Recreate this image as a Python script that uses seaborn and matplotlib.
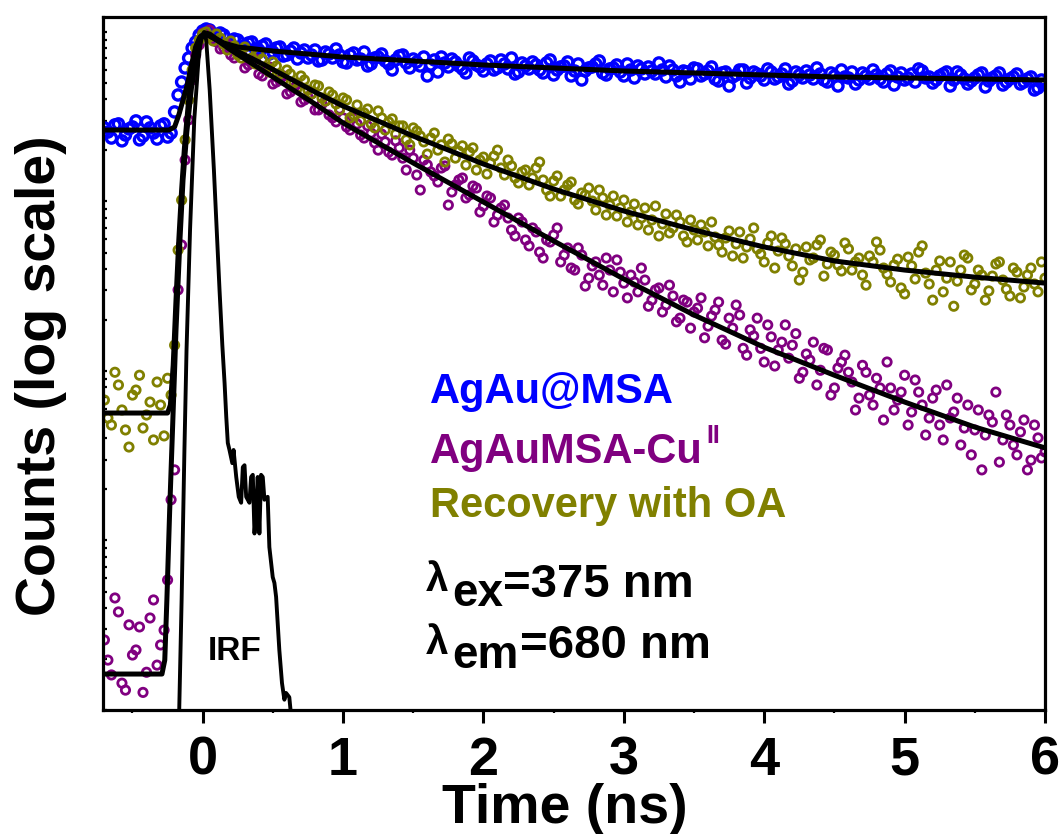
import matplotlib
matplotlib.use("Agg")
import numpy as np
import pandas as pd
import matplotlib.pyplot as plt
import seaborn as sns
from matplotlib.ticker import MultipleLocator, NullFormatter, LogLocator

sns.set_style("ticks")
plt.rcParams['font.family'] = ['Liberation Sans', 'DejaVu Sans']
plt.rcParams['font.weight'] = 'bold'
for k in ["text.color", "axes.labelcolor", "xtick.color", "ytick.color", "axes.edgecolor"]:
    plt.rcParams[k] = "black"

# ---------------- data ----------------
# even channels
time_ns = [
    -0.70, -0.65, -0.60, -0.55, -0.50, -0.45, -0.40, -0.35, -0.30, -0.25,
    -0.20, -0.15, -0.10, -0.05, 0.00, 0.05, 0.10, 0.15, 0.20, 0.25,
    0.30, 0.35, 0.40, 0.45, 0.50, 0.55, 0.60, 0.65, 0.70, 0.75,
    0.80, 0.85, 0.90, 0.95, 1.00, 1.05, 1.10, 1.15, 1.20, 1.25,
    1.30, 1.35, 1.40, 1.45, 1.50, 1.55, 1.60, 1.65, 1.70, 1.75,
    1.80, 1.85, 1.90, 1.95, 2.00, 2.05, 2.10, 2.15, 2.20, 2.25,
    2.30, 2.35, 2.40, 2.45, 2.50, 2.55, 2.60, 2.65, 2.70, 2.75,
    2.80, 2.85, 2.90, 2.95, 3.00, 3.05, 3.10, 3.15, 3.20, 3.25,
    3.30, 3.35, 3.40, 3.45, 3.50, 3.55, 3.60, 3.65, 3.70, 3.75,
    3.80, 3.85, 3.90, 3.95, 4.00, 4.05, 4.10, 4.15, 4.20, 4.25,
    4.30, 4.35, 4.40, 4.45, 4.50, 4.55, 4.60, 4.65, 4.70, 4.75,
    4.80, 4.85, 4.90, 4.95, 5.00, 5.05, 5.10, 5.15, 5.20, 5.25,
    5.30, 5.35, 5.40, 5.45, 5.50, 5.55, 5.60, 5.65, 5.70, 5.75,
    5.80, 5.85, 5.90, 5.95, 6.00]

# odd channels
time_ns_odd = [
    -0.675, -0.625, -0.575, -0.525, -0.475, -0.425, -0.375, -0.325, -0.275, -0.225,
    -0.175, -0.125, -0.075, -0.025, 0.025, 0.075, 0.125, 0.175, 0.225, 0.275,
    0.325, 0.375, 0.425, 0.475, 0.525, 0.575, 0.625, 0.675, 0.725, 0.775,
    0.825, 0.875, 0.925, 0.975, 1.025, 1.075, 1.125, 1.175, 1.225, 1.275,
    1.325, 1.375, 1.425, 1.475, 1.525, 1.575, 1.625, 1.675, 1.725, 1.775,
    1.825, 1.875, 1.925, 1.975, 2.025, 2.075, 2.125, 2.175, 2.225, 2.275,
    2.325, 2.375, 2.425, 2.475, 2.525, 2.575, 2.625, 2.675, 2.725, 2.775,
    2.825, 2.875, 2.925, 2.975, 3.025, 3.075, 3.125, 3.175, 3.225, 3.275,
    3.325, 3.375, 3.425, 3.475, 3.525, 3.575, 3.625, 3.675, 3.725, 3.775,
    3.825, 3.875, 3.925, 3.975, 4.025, 4.075, 4.125, 4.175, 4.225, 4.275,
    4.325, 4.375, 4.425, 4.475, 4.525, 4.575, 4.625, 4.675, 4.725, 4.775,
    4.825, 4.875, 4.925, 4.975, 5.025, 5.075, 5.125, 5.175, 5.225, 5.275,
    5.325, 5.375, 5.425, 5.475, 5.525, 5.575, 5.625, 5.675, 5.725, 5.775,
    5.825, 5.875, 5.925, 5.975]

agau_msa_counts = [
    2718, 2368, 2870, 2467, 2755, 2310, 2949, 2535, 2793, 2400,
    3377, 5070, 7024, 8730, 10136,
    10275, 9217, 9600, 8496, 8970, 8268, 8730, 7830, 8496, 7620,
    8157, 7316, 8046, 7518, 7024, 7830, 6840, 7416, 7938, 6657,
    7316, 6840, 7620, 6478, 7120, 6748, 5970, 7217, 6567, 6929,
    6304, 5503, 6840, 7120, 6220, 6657, 6053, 7024, 6391, 5889,
    6748, 6135, 6478, 7024, 5810, 6304, 6657, 5970, 6567, 5578,
    6220, 6657, 5889, 5210, 6135, 6478, 5732, 6053, 6391, 5503,
    5970, 6304, 5654, 5889, 6567, 5429, 5970, 5070, 5810, 6135,
    5503, 5889, 5283, 5732, 4802, 5578, 5970, 5355, 5654, 5210,
    5810, 5429, 6053, 5140, 5578, 5889, 5283, 5654, 5070, 5503,
    5970, 5355, 4934, 5732, 5283, 5578, 5070, 5889, 5429, 5210,
    5654, 6053, 5355, 5002, 5503, 5810, 5210, 5578, 4934, 5355,
    5732, 5140, 5503, 4868, 5283, 5654, 5070, 5429, 4673, 4934]

agau_msa_counts_odd = [
    2569, 2831, 2279, 2681, 2989, 2433, 2718, 2336, 2870, 2535,
    4251, 6135, 8046, 9600, 10416, 9471, 9865, 8381, 9093, 8157,
    8612, 7938, 8268, 7416, 8046, 7217, 7724, 6929, 7830, 7316,
    6748, 7620, 7024, 7316, 6567, 7518, 6929, 6304, 7024, 7416,
    6478, 6840, 7316, 6135, 6657, 7120, 6391, 5810, 6567, 6929,
    6304, 5732, 6748, 6220, 6478, 5970, 6840, 6053, 5654, 6567,
    6053, 6391, 5732, 6840, 5970, 6304, 5503, 6478, 5889, 6220,
    6748, 5578, 6135, 5810, 6478, 5355, 6053, 6220, 5654, 5970,
    6304, 5503, 5889, 5283, 6053, 5654, 6220, 5140, 5810, 5429,
    5970, 5002, 5810, 5503, 6053, 5283, 5654, 4934, 5810, 5355,
    5578, 6135, 5210, 5732, 4802, 5429, 5810, 5210, 5503, 5970,
    5283, 5654, 4868, 5732, 5355, 5070, 5889, 5429, 5210, 5654,
    4802, 5810, 5283, 5140, 5578, 4737, 5355, 5732, 5070, 5429,
    4934, 5283, 4550, 5210]

recovery_oa_counts = [
    67.4, 48.0, 82.7, 44.9, 72.1, 94.4, 55.0, 39.2, 63.0, 90.6,
    142, 1020, 3970, 8046, 9731,
    9343, 9731, 8496, 8849, 7316, 8157, 7024, 7416, 6135, 6657,
    5654, 5970, 5002, 5503, 4550, 4868, 4081, 4428, 3760, 4081,
    3113, 3709, 3332, 2870, 3423, 2640, 3071, 2793, 2310, 2718,
    2433, 1904, 2535, 2158, 2336, 1803, 2129, 1956, 1534, 1828,
    1687, 2010, 1433, 1620, 1286, 1534, 1376, 1710, 1169, 1321,
    1077, 1251, 1020, 1122, 1201, 891, 1049, 953, 821, 1020,
    867, 727, 915, 778, 626, 844, 698, 757, 577, 679,
    727, 547, 617, 503, 670, 562, 464, 601, 525, 440,
    626, 510, 562, 417, 344, 539, 464, 593, 428, 483,
    389, 525, 440, 368, 477, 577, 405, 335, 457, 285,
    417, 503, 378, 262, 446, 353, 241, 394, 464, 326,
    368, 297, 428, 344, 277, 383, 313, 405, 293, 353]

recovery_oa_counts_odd = [
    52.8, 98.3, 58.9, 35.6, 77.2, 46.1, 65.6, 86.1, 41.4, 72.1,
    517, 2310, 5970, 8970, 10000, 8849, 9217, 7830, 8268, 7024,
    7620, 6478, 6929, 5810, 6304, 5210, 5654, 4673, 5210, 4309,
    4802, 3916, 4251, 3470, 3970, 3242, 2989, 3513, 2718, 3113,
    2949, 2500, 2793, 2158, 2604, 2248, 2368, 2010, 1710, 2188,
    1983, 1642, 2072, 1757, 1453, 1853, 1576, 1757, 1376, 1493,
    1251, 1576, 1339, 1077, 1414, 1169, 1303, 966, 1092, 1006,
    1169, 832, 1077, 915, 757, 966, 799, 679, 940, 737,
    652, 832, 626, 778, 593, 661, 757, 554, 609, 477,
    661, 539, 698, 490, 569, 405, 609, 477, 525, 383,
    452, 554, 363, 503, 422, 569, 394, 464, 321, 440,
    517, 373, 422, 309, 470, 349, 547, 326, 394, 293,
    440, 339, 483, 301, 394, 262, 363, 440, 304, 405,
    270, 368, 326, 440]

agau_cu_counts = [
    2.59, 1.61, 3.79, 1.31, 2.11, 3.09, 1.67, 4.46, 2.42, 5.85,
    26.1, 554, 3030, 7316, 9865,
    10275, 8730, 8046, 7316, 7620, 6135, 6657, 5654, 5970, 4934,
    5210, 4309, 4673, 3864, 4137, 3470, 3760, 3242, 2949, 3113,
    2640, 2870, 2368, 2535, 2010, 2248, 1878, 2072, 1534, 1803,
    1169, 1644, 1414, 1576, 953, 1251, 1376, 1092, 1201, 940,
    1049, 832, 953, 679, 799, 593, 698, 503, 593, 634,
    440, 532, 394, 483, 353, 440, 321, 394, 452, 330,
    368, 293, 344, 262, 309, 245, 277, 205, 255, 223,
    270, 184, 229, 152, 205, 245, 136, 175, 205, 113,
    159, 133, 187, 142, 90.6, 126, 148, 101, 133, 79.4,
    113, 98.3, 58.9, 108, 72.1, 90.6, 51.4, 79.4, 67.4, 94.4,
    57.3, 75.1, 41.9, 69.2, 48.0, 82.7, 57.3, 36.6, 63.0, 44.9,
    26.1, 55.0, 75.1, 39.2, 48.0, 32.0, 51.4, 29.8, 40.3, 33.3]

agau_cu_counts_odd = [
    1.97, 4.58, 1.44, 3.18, 2.26, 1.27, 3.49, 1.84, 2.96, 17.4,
    301, 1757, 5210, 8381, 9731, 8970, 7938, 8496, 7024, 7416,
    6391, 6929, 5503, 6220, 5070, 5503, 4428, 4934, 3970, 4309,
    3470, 3916, 3113, 3513, 2755, 3113, 2467, 2793, 2218, 2500,
    1956, 2279, 1803, 2010, 1433, 1757, 1493, 1303, 1620, 1138,
    1339, 1049, 1234, 867, 1077, 757, 915, 799, 626, 757,
    547, 661, 464, 577, 698, 483, 405, 532, 317, 417,
    368, 464, 293, 383, 270, 335, 405, 241, 301, 223,
    321, 195, 262, 179, 235, 157, 211, 255, 144, 179,
    214, 124, 161, 136, 187, 107, 148, 119, 166, 98.3,
    116, 82.7, 136, 72.1, 104, 124, 86.1, 69.2, 98.3, 63.0,
    79.4, 113, 58.9, 75.1, 48.0, 88.5, 63.0, 52.8, 77.2, 39.2,
    52.8, 69.2, 46.1, 32.0, 58.9, 41.9, 50.0, 29.0, 55.0, 36.6,
    43.7, 26.1, 48.0, 30.7]

# fitted curves
agau_fit_time = [-0.71, -0.24, -0.20, -0.17, -0.14, -0.11, -0.08, -0.05, -0.02,
                 0.02, 0.05, 0.10, 0.15, 0.25, 0.5, 0.75, 1.0, 1.5, 2.0, 2.5,
                 3.0, 3.5, 4.0, 4.5, 5.0, 5.5, 6.0]
agau_fit_counts = [2640, 2640, 2755, 3242, 3970, 4868, 6391, 8157, 9343,
                   9865, 9731, 9093, 8612, 8157, 7724, 7416, 7120, 6748, 6391, 6135,
                   5889, 5732, 5578, 5429, 5355, 5283, 5210]

oa_fit_time = [-0.71, -0.25, -0.23, -0.21, -0.19, -0.17, -0.15, -0.13, -0.10, -0.07,
               -0.04, -0.01, 0.02, 0.05, 0.10, 0.20, 0.40, 0.60, 0.80, 1.0,
               1.5, 2.0, 2.5, 3.0, 3.5, 4.0, 4.5, 5.0, 5.5, 6.0]
oa_fit_counts = [56.5, 56.5, 63.0, 108, 262, 593, 1169, 2072, 3970, 6304,
                 8381, 9471, 9731, 9471, 8970, 8046, 6657, 5429, 4428, 3659,
                 2433, 1664, 1185, 879, 679, 539, 446, 394, 358, 330]

cu_fit_time = [-0.71, -0.29, -0.27, -0.255, -0.235, -0.213, -0.19, -0.163, -0.14, -0.113,
               -0.08, -0.043, -0.01, 0.02, 0.05, 0.10, 0.20, 0.40, 0.60, 0.80,
               1.0, 1.5, 2.0, 2.5, 3.0, 3.5, 4.0, 4.5, 5.0, 5.5, 6.0]
cu_fit_counts = [1.63, 1.63, 1.97, 4.46, 15.1, 50.0, 175, 569, 1339, 2569,
                 4673, 7217, 9217, 9731, 9471, 8970, 7830, 6135, 4802, 3760,
                 2909, 1687, 993, 585, 349, 214, 138, 94.4, 65.6, 46.7, 35.2]

irf_time = [-0.175, -0.15, -0.13, -0.115, -0.09, -0.06, -0.03, -0.01, 0.01, 0.025,
            0.05, 0.08, 0.10, 0.12, 0.14, 0.156, 0.168, 0.179, 0.191, 0.211,
            0.220, 0.239, 0.257, 0.274, 0.286, 0.298, 0.310, 0.333, 0.345, 0.357,
            0.369, 0.381, 0.392, 0.404, 0.416, 0.428, 0.440, 0.463, 0.475, 0.499,
            0.511, 0.523, 0.546, 0.565, 0.582, 0.594, 0.617, 0.629, 0.645]
irf_counts = [0.5, 4.46, 34.2, 133, 679, 3030, 6840, 9217, 10000, 8970,
              4550, 1534, 679, 301, 142, 85.0, 53.6, 37.6, 34.2, 28.6,
              34.2, 23.7, 18.1, 16.7, 27.1, 27.8, 18.1, 16.7, 23.7, 24.4,
              11.0, 15.1, 23.7, 11.0, 24.4, 23.7, 17.4, 18.1, 9.14, 6.08,
              5.62, 4.65, 2.26, 1.44, 1.15, 1.26, 1.19, 0.94, 0.5]

series_labels = ["AgAu@MSA", "AgAuMSA-Cu", "Recovery with OA"]
series_colors = ["#0000FF", "#800080", "#808000"]

assert len(time_ns) == len(agau_msa_counts) == len(recovery_oa_counts) == len(agau_cu_counts)
assert len(time_ns_odd) == len(agau_msa_counts_odd) == len(recovery_oa_counts_odd) == len(agau_cu_counts_odd)
assert len(irf_time) == len(irf_counts)

W, H = 1062, 834
fig = plt.figure(figsize=(W / 100, H / 100), dpi=100)
ax = fig.add_axes([103 / W, 1 - 710 / H, 942 / W, 693 / H])

t_all = time_ns + time_ns_odd
df_blue = pd.DataFrame({"t": t_all, "c": agau_msa_counts + agau_msa_counts_odd})
df_cu = pd.DataFrame({"t": t_all, "c": agau_cu_counts + agau_cu_counts_odd})
df_oa = pd.DataFrame({"t": t_all, "c": recovery_oa_counts + recovery_oa_counts_odd})

sns.scatterplot(data=df_blue, x="t", y="c", ax=ax, marker="o", s=54,
                facecolor="none", edgecolor=series_colors[0], linewidth=2.4, zorder=2)
sns.scatterplot(data=df_cu, x="t", y="c", ax=ax, marker="o", s=36,
                facecolor="none", edgecolor=series_colors[1], linewidth=2.0, zorder=2)
sns.scatterplot(data=df_oa, x="t", y="c", ax=ax, marker="o", s=36,
                facecolor="none", edgecolor=series_colors[2], linewidth=2.0, zorder=2)

for ft, fc in [(agau_fit_time, agau_fit_counts), (oa_fit_time, oa_fit_counts),
               (cu_fit_time, cu_fit_counts)]:
    sns.lineplot(x=ft, y=fc, ax=ax, color="black", linewidth=3.6, sort=False,
                 estimator=None, zorder=4)
sns.lineplot(x=irf_time, y=irf_counts, ax=ax, color="black", linewidth=2.8,
             sort=False, estimator=None, zorder=4)

ax.set_yscale("log")
ax.set_xlim(-0.71, 6.0)
ax.set_ylim(1.0, 12260)

ax.xaxis.set_major_locator(MultipleLocator(1))
ax.xaxis.set_minor_locator(MultipleLocator(0.5))
ax.tick_params(axis="x", which="major", direction="out", length=9.5, width=2.2,
               labelsize=39, pad=9, color="black", labelcolor="black")
ax.tick_params(axis="x", which="minor", direction="out", length=2.5, width=1.6)
ax.yaxis.set_major_locator(LogLocator(base=10))
ax.yaxis.set_minor_locator(LogLocator(base=10, subs=np.arange(2, 10)))
ax.yaxis.set_major_formatter(NullFormatter())
ax.yaxis.set_minor_formatter(NullFormatter())
ax.tick_params(axis="y", which="both", direction="in", length=3, width=1.6)
for lbl in ax.get_xticklabels():
    lbl.set_fontweight("bold")

for sp in ax.spines.values():
    sp.set_linewidth(2.3)
    sp.set_color("black")

ax.set_xlabel("Time (ns)", fontsize=40, fontweight="bold", color="black")
ax.xaxis.set_label_coords(0.49, -0.106)
ax.set_ylabel("Counts (log scale)", fontsize=40, fontweight="bold", color="black")
ax.yaxis.set_label_coords(-0.038, 0.483)


def ftext(px, py, s, **kw):
    fig.text(px / W, 1 - py / H, s, va="baseline", ha="left", **kw)


ftext(430, 403, series_labels[0], fontsize=30, fontweight="bold", color=series_colors[0])
ftext(430, 463, series_labels[1], fontsize=30, fontweight="bold", color=series_colors[1])
ftext(706, 443, "II", fontsize=18, fontweight="bold", color=series_colors[1])
ftext(430, 517, series_labels[2], fontsize=30, fontweight="bold", color=series_colors[2])

ftext(426, 591, "λ", fontsize=29, fontweight="bold", color="black")
ftext(452, 606, "ex", fontsize=33, fontweight="bold", color="black")
ftext(503, 597, "=375 nm", fontsize=34, fontweight="bold", color="black")
ftext(426, 654, "λ", fontsize=29, fontweight="bold", color="black")
ftext(452, 668, "em", fontsize=33, fontweight="bold", color="black")
ftext(520, 658, "=680 nm", fontsize=34, fontweight="bold", color="black")

ftext(208, 660, "IRF", fontsize=24, fontweight="bold", color="black")

fig.savefig("out.png", dpi=100)
